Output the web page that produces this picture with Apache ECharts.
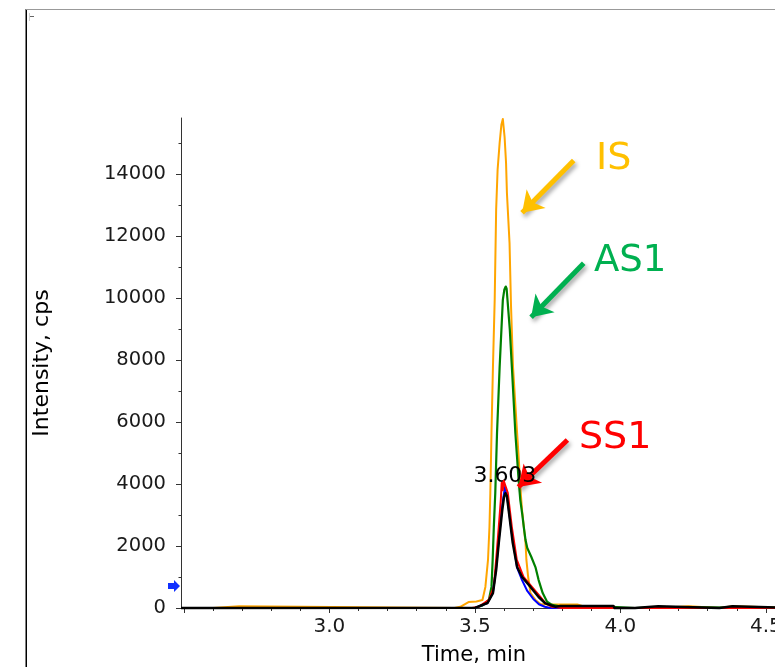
<!DOCTYPE html>
<html><head><meta charset="utf-8">
<script src="https://cdn.jsdelivr.net/npm/echarts@6/dist/echarts.min.js"></script>
<style>html,body{margin:0;padding:0;overflow:hidden;background:#fff;width:775px;height:667px}#c{width:800px;height:667px}</style>
</head><body><div id="c"></div><script>
// ---- axis ticks / labels ----
const xTickLabels=[3.0,3.5,4.0,4.5];
const xMajorTicks=[2.5,3.0,3.5,4.0,4.5];
const xMinorTicks=[2.6,2.7,2.8,2.9,3.1,3.2,3.3,3.4,3.6,3.7,3.8,3.9,4.1,4.2,4.3,4.4,4.6];
const yTickLabels=[0,2000,4000,6000,8000,10000,12000,14000];
const yMinorTicks=[1000,3000,5000,7000,9000,11000,13000,15000];

// ---- IS (orange) ----
const isTime=[2.49,2.60,2.605,2.69,2.695,3.43,3.45,3.478,3.505,3.526,3.536,3.545,3.550,3.553,3.557,3.562,3.568,3.573,3.578,3.585,3.591,3.596,3.599,3.602,3.607,3.610,3.619,3.624,3.631,3.645,3.651,3.656,3.662,3.674,3.677,3.683,3.691,3.708,3.725,3.759,3.852,3.879,3.93,4.13,4.135,4.235,4.24,4.34,4.345,4.385,4.39,4.6];
const isValue=[0,0,60,60,0,0,40,190,210,260,680,1550,2610,3710,5645,7770,9935,12840,14130,15000,15580,15765,15710,15190,14355,13390,11775,9770,7770,5645,4770,3900,3160,2100,1550,1000,480,260,130,115,115,30,0,0,60,60,0,0,60,60,0,0];

// ---- AS1 (green) ----
const asTime=[2.49,3.50,3.526,3.548,3.557,3.561,3.565,3.570,3.576,3.585,3.596,3.601,3.606,3.609,3.612,3.620,3.627,3.639,3.649,3.656,3.663,3.668,3.674,3.680,3.694,3.708,3.719,3.733,3.748,3.765,3.80,3.97,3.975,4.05,4.055,4.13,4.135,4.6];
const asValue=[0,0,80,260,680,1550,2610,3710,5645,7770,9935,10260,10365,10300,9935,8970,7770,5645,4290,3480,3000,2610,2190,1935,1645,1320,900,480,200,100,40,40,0,0,30,30,0,0];

// ---- blue trace ----
const blTime=[2.49,3.50,3.543,3.562,3.573,3.582,3.594,3.603,3.612,3.627,3.645,3.662,3.680,3.700,3.720,3.740,3.760,4.6];
const blValue=[0,0,160,500,1300,2200,3300,3900,3500,2400,1300,900,550,300,120,40,0,0];

// ---- SS1 (red) ----
const ssTime=[2.49,3.49,3.513,3.548,3.565,3.573,3.582,3.589,3.592,3.596,3.599,3.605,3.613,3.627,3.644,3.667,3.696,3.725,3.742,3.765,3.80,4.6];
const ssValue=[0,0,40,260,680,1550,2610,3480,4040,3800,4100,4150,3710,2610,1550,1000,680,355,160,40,0,0];

// ---- black trace ----
const bkTime=[2.49,3.502,3.543,3.562,3.573,3.582,3.594,3.600,3.605,3.610,3.616,3.630,3.645,3.662,3.691,3.719,3.742,3.777,3.794,3.976,3.98,4.05,4.052,4.13,4.135,4.34,4.342,4.385,4.39,4.6];
const bkValue=[0,10,160,480,1225,2100,3160,3580,3700,3610,3160,2100,1320,1000,680,355,150,40,65,65,0,0,60,60,0,0,60,60,0,0];

// ---- annotations (data coordinates) ----
const peakLabel='3.603';
const peakLabelAt=[3.603,4260];
const markerAt=[2.49,710];
const arrowIS=[[3.8395,14429],[3.6622,12742]];
const arrowAS=[[3.8739,11119],[3.6931,9377]];
const arrowSS=[[3.8179,5419],[3.6495,3903]];

const FONT="'DejaVu Sans', Verdana, sans-serif";
const pairs=(t,v)=>t.map((x,i)=>[x,v[i]]);
const line=(name,color,width,t,v,z)=>({type:'line',name,data:pairs(t,v),symbol:'none',showSymbol:false,clip:false,silent:true,z,
  lineStyle:{color,width,join:'round'},itemStyle:{color},emphasis:{disabled:true}});
const shadow={shadowColor:'rgba(0,0,0,0.35)',shadowBlur:4,shadowOffsetX:2,shadowOffsetY:3};
const arrow=(a,color)=>[{coord:a[0],lineStyle:Object.assign({color,width:5,type:'solid'},shadow)},{coord:a[1]}];

const chart=echarts.init(document.getElementById('c'),null,{renderer:'canvas'});
const axisCol='#333';
chart.setOption({
  animation:false,
  backgroundColor:'#fff',
  grid:{left:181,right:5,top:118,bottom:59,containLabel:false,outerBoundsMode:'none'},
  xAxis:[
    {type:'value',min:2.49,max:4.6,position:'bottom',
     axisLine:{onZero:false,lineStyle:{color:axisCol,width:1}},
     axisTick:{customValues:xMajorTicks,length:5,lineStyle:{color:axisCol}},
     axisLabel:{customValues:xTickLabels,formatter:v=>v.toFixed(1),fontFamily:FONT,fontSize:20,color:'#1a1a1a',margin:9},
     splitLine:{show:false},
     name:'Time, min',nameLocation:'middle',nameGap:37,
     nameTextStyle:{fontFamily:FONT,fontSize:21,color:'#000',padding:[0,28,0,0]}},
    {type:'value',min:2.49,max:4.6,position:'bottom',
     axisLine:{show:false,onZero:false},
     axisTick:{customValues:xMinorTicks,length:3,lineStyle:{color:axisCol}},
     axisLabel:{show:false},splitLine:{show:false}}
  ],
  yAxis:[
    {type:'value',min:0,max:15800,position:'left',
     axisLine:{show:true,onZero:false,lineStyle:{color:axisCol,width:1}},
     axisTick:{show:true,customValues:yTickLabels,length:5,lineStyle:{color:axisCol}},
     axisLabel:{customValues:yTickLabels,formatter:v=>String(v),fontFamily:FONT,fontSize:19.5,color:'#1a1a1a',margin:15},
     splitLine:{show:false},
     name:'Intensity, cps',nameLocation:'middle',nameGap:128,nameRotate:90,
     nameTextStyle:{fontFamily:FONT,fontSize:22,color:'#000'}},
    {type:'value',min:0,max:15800,position:'left',
     axisLine:{show:false,onZero:false},
     axisTick:{show:true,customValues:yMinorTicks,length:2.5,lineStyle:{color:axisCol}},
     axisLabel:{show:false},splitLine:{show:false}}
  ],
  series:[
    line('IS','#FFA500',2,isTime,isValue,2),
    line('AS1','#008000',2.2,asTime,asValue,3),
    Object.assign(line('blue','#0000FF',2,blTime,blValue,4),{
      markPoint:{silent:true,animation:false,
        data:[{coord:markerAt,symbol:'path://M0,3 L6,3 L6,0 L12,6 L6,12 L6,9 L0,9 Z',symbolSize:[12,12],symbolOffset:[-7,0],
          itemStyle:{color:'#1030FF'},label:{show:false}}]}}),
    line('SS1','#FF0000',2,ssTime,ssValue,5),
    Object.assign(line('black','#000000',2.5,bkTime,bkValue,6),{
      markPoint:{silent:true,animation:false,
        data:[{coord:peakLabelAt,symbol:'circle',symbolSize:0,
          label:{show:true,position:'inside',formatter:peakLabel,fontFamily:FONT,fontSize:22,color:'#000'}}]}}),
    {type:'line',name:'arrows',data:[],z:10,silent:true,
     markLine:{silent:true,animation:false,symbol:['none','arrow'],symbolSize:[20,20],label:{show:false},emphasis:{disabled:true},
       data:[arrow(arrowIS,'#FFC000'),arrow(arrowAS,'#00B050'),arrow(arrowSS,'#FF0000')]}}
  ],
  graphic:[
    {type:'line',shape:{x1:26.25,y1:9,x2:26.25,y2:667},style:{stroke:'#000',lineWidth:1.5},silent:true},
    {type:'line',shape:{x1:26,y1:9.5,x2:800,y2:9.5},style:{stroke:'#999',lineWidth:1},silent:true},
    {type:'line',shape:{x1:29,y1:16.5,x2:34,y2:16.5},style:{stroke:'#666',lineWidth:1},silent:true},
    {type:'line',shape:{x1:29.5,y1:13,x2:29.5,y2:21},style:{stroke:'#ccc',lineWidth:1},silent:true},
    {type:'text',x:596,y:159,style:{text:'IS',fontFamily:FONT,fontSize:38,fill:'#FFC000',align:'left',verticalAlign:'middle'},silent:true},
    {type:'text',x:594,y:261,style:{text:'AS1',fontFamily:FONT,fontSize:37,fill:'#00B050',align:'left',verticalAlign:'middle'},silent:true},
    {type:'text',x:579,y:438,style:{text:'SS1',fontFamily:FONT,fontSize:38,fill:'#FF0000',align:'left',verticalAlign:'middle'},silent:true}
  ]
});
</script></body></html>
